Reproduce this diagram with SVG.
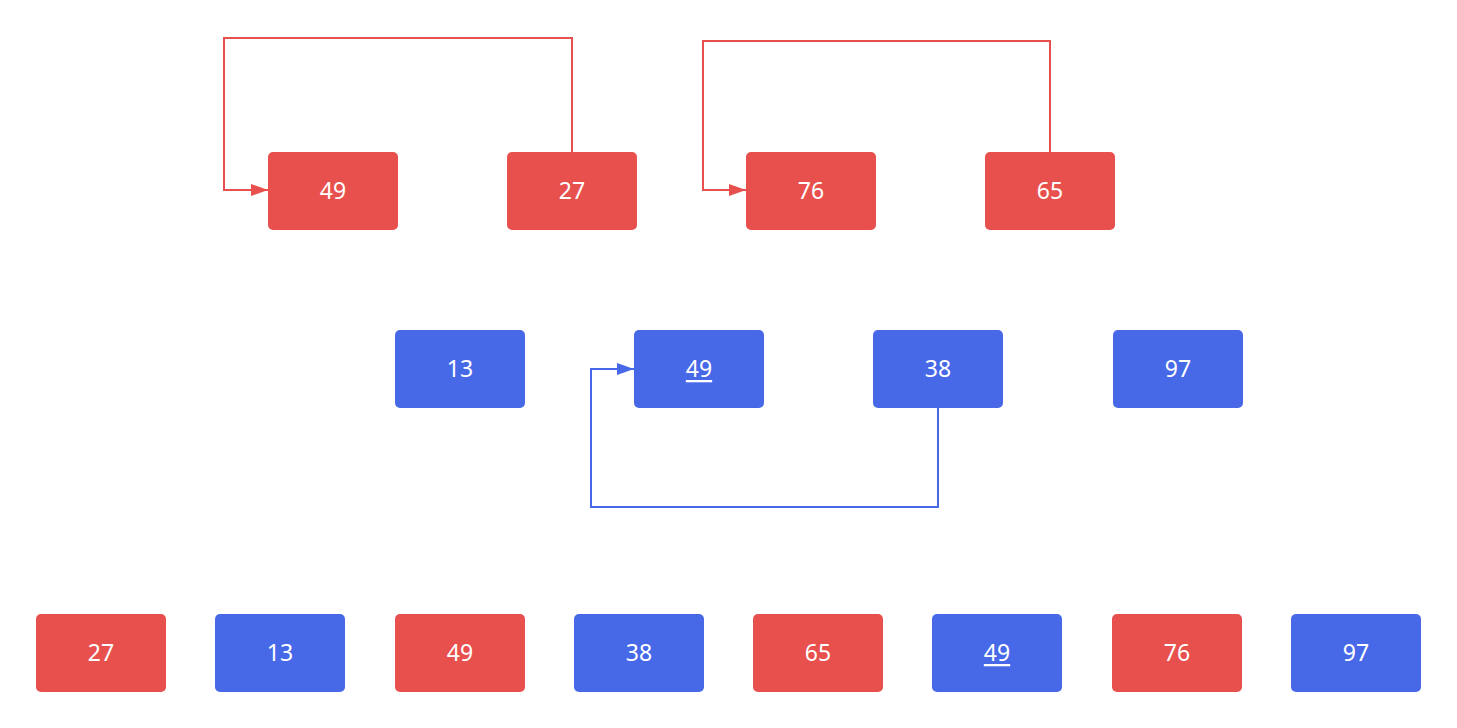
<svg xmlns="http://www.w3.org/2000/svg" width="1457" height="728" viewBox="0 0 1457 728">
<style>
.r{fill:#E8504E}
.b{fill:#4769E8}
.t{fill:#fff;font-family:"Noto Sans","Open Sans",sans-serif;font-size:23px;text-anchor:middle;dominant-baseline:central}
.u{text-decoration:underline}
.lr{fill:none;stroke:#E8504E;stroke-width:2}
.lb{fill:none;stroke:#4769E8;stroke-width:2}
</style>
<defs>
<marker id="ar" viewBox="0 0 17 12" refX="17" refY="6" markerWidth="17" markerHeight="12" markerUnits="userSpaceOnUse" orient="auto"><path d="M0,0L17,6L0,12z" fill="#E8504E"/></marker>
<marker id="ab" viewBox="0 0 17 12" refX="17" refY="6" markerWidth="17" markerHeight="12" markerUnits="userSpaceOnUse" orient="auto"><path d="M0,0L17,6L0,12z" fill="#4769E8"/></marker>
</defs>
<rect width="1457" height="728" fill="#fff"/>
<g id="connectors">
<path class="lr" d="M572,152V38H224V190H268" marker-end="url(#ar)"/>
<path class="lr" d="M1050,152V41H703V190H746" marker-end="url(#ar)"/>
<path class="lb" d="M938,408V507H591V369H634" marker-end="url(#ab)"/>
</g>
<g id="t49"><rect class="r" x="268" y="152" width="130" height="78" rx="5"/><text class="t" x="333" y="190">49</text></g>
<g id="t27"><rect class="r" x="507" y="152" width="130" height="78" rx="5"/><text class="t" x="572" y="190">27</text></g>
<g id="t76"><rect class="r" x="746" y="152" width="130" height="78" rx="5"/><text class="t" x="811" y="190">76</text></g>
<g id="t65"><rect class="r" x="985" y="152" width="130" height="78" rx="5"/><text class="t" x="1050" y="190">65</text></g>
<g id="m13"><rect class="b" x="395" y="330" width="130" height="78" rx="5"/><text class="t" x="460" y="368">13</text></g>
<g id="m49"><rect class="b" x="634" y="330" width="130" height="78" rx="5"/><text class="t u" x="699" y="368">49</text></g>
<g id="m38"><rect class="b" x="873" y="330" width="130" height="78" rx="5"/><text class="t" x="938" y="368">38</text></g>
<g id="m97"><rect class="b" x="1113" y="330" width="130" height="78" rx="5"/><text class="t" x="1178" y="368">97</text></g>
<g id="b27"><rect class="r" x="36" y="614" width="130" height="78" rx="5"/><text class="t" x="101" y="652">27</text></g>
<g id="b13"><rect class="b" x="215" y="614" width="130" height="78" rx="5"/><text class="t" x="280" y="652">13</text></g>
<g id="b49"><rect class="r" x="395" y="614" width="130" height="78" rx="5"/><text class="t" x="460" y="652">49</text></g>
<g id="b38"><rect class="b" x="574" y="614" width="130" height="78" rx="5"/><text class="t" x="639" y="652">38</text></g>
<g id="b65"><rect class="r" x="753" y="614" width="130" height="78" rx="5"/><text class="t" x="818" y="652">65</text></g>
<g id="b49u"><rect class="b" x="932" y="614" width="130" height="78" rx="5"/><text class="t u" x="997" y="652">49</text></g>
<g id="b76"><rect class="r" x="1112" y="614" width="130" height="78" rx="5"/><text class="t" x="1177" y="652">76</text></g>
<g id="b97"><rect class="b" x="1291" y="614" width="130" height="78" rx="5"/><text class="t" x="1356" y="652">97</text></g>
</svg>
